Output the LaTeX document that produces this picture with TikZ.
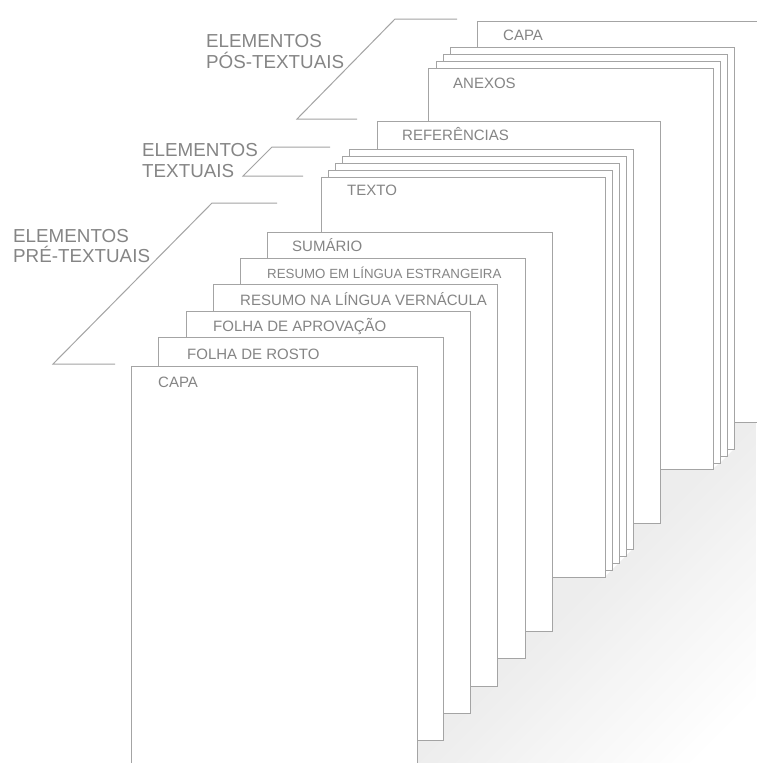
\documentclass[tikz,border=0pt]{standalone}
\usepackage{fontspec}
\setmainfont{Liberation Sans}
\usetikzlibrary{calc}
\definecolor{ln}{HTML}{A4A4A4}
\definecolor{tx}{HTML}{858585}
\begin{document}
\begin{tikzpicture}[x=1pt,y=-1pt,
  sheet/.style={draw=ln, fill=white, line width=0.9pt, anchor=north west, inner sep=0pt, outer sep=0pt},
  lbl/.style={text=tx, font=\fontsize{15}{18}\selectfont, anchor=base west, inner sep=0pt},
  lblsmall/.style={text=tx, font=\fontsize{13.3}{16}\selectfont, anchor=base west, inner sep=0pt},
  big/.style={text=tx, font=\fontsize{18.8}{21}\selectfont, anchor=base west, inner sep=0pt},
  brk/.style={draw=ln, line width=1pt}]
\useasboundingbox (0,0) rectangle (756,763);
\fill[white] (0,0) rectangle (756,763);
% soft shadow under the stacks, fading away from the steps
\begin{scope}
\clip (417,763) -- (417,740) -- (443,740) -- (443,713) -- (470,713) -- (470,686) -- (497,686)
  -- (497,658) -- (525,658) -- (525,631) -- (552,631) -- (552,577) -- (605,577)
  -- (612,570) -- (619,563) -- (626,556) -- (633,549) -- (633,523) -- (660,523)
  -- (660,469) -- (713,469) -- (720,463) -- (727,456) -- (734,449) -- (734,422)
  -- (756,422) -- (756,763) -- cycle;
\foreach \i in {0,...,60}{
  \pgfmathsetmacro\c{1110+6*\i}
  \pgfmathsetmacro\g{\c<1175 ? 7 : max(0,7*(1-(\c-1175)/280))}
  \fill[black!\g] (\c,0) -- (\c+6.5,0) -- (\c+6.5-900,900) -- (\c-900,900) -- cycle;
}
\end{scope}
% post-textual stack
\node[sheet, minimum width=285pt, minimum height=401pt] (capab) at (477,21) {};
\node[sheet, minimum width=284pt, minimum height=402pt] (p3) at (450,47) {};
\node[sheet, minimum width=284pt, minimum height=402pt] (p2) at (443,54) {};
\node[sheet, minimum width=284pt, minimum height=402pt] (p1) at (436,61) {};
\node[sheet, minimum width=285pt, minimum height=401pt] (anexos) at (428,68) {};
\node[sheet, minimum width=283pt, minimum height=402pt] (ref) at (377,121) {};
% textual stack
\node[sheet, minimum width=284pt, minimum height=400pt] (t4) at (349,149) {};
\node[sheet, minimum width=284pt, minimum height=400pt] (t3) at (342,156) {};
\node[sheet, minimum width=284pt, minimum height=400pt] (t2) at (335,163) {};
\node[sheet, minimum width=284pt, minimum height=400pt] (t1) at (328,170) {};
\node[sheet, minimum width=284pt, minimum height=400pt] (texto) at (321,177) {};
% pre-textual stack
\node[sheet, minimum width=285pt, minimum height=399pt] (sumario) at (267,232) {};
\node[sheet, minimum width=285pt, minimum height=400pt] (estr) at (240,258) {};
\node[sheet, minimum width=284pt, minimum height=402pt] (vern) at (213,284) {};
\node[sheet, minimum width=284pt, minimum height=402pt] (aprov) at (186,311) {};
\node[sheet, minimum width=285pt, minimum height=403pt] (rosto) at (158,337) {};
\node[sheet, minimum width=286pt, minimum height=420pt] (capa) at (131,366) {};
% sheet labels
\node[lbl] (lcapab) at ($(capab.north west)+(26,19)$) {CAPA};
\node[lbl] (lanexos) at ($(anexos.north west)+(25,20)$) {ANEXOS};
\node[lbl] (lref) at ($(ref.north west)+(25,19)$) {REFERÊNCIAS};
\node[lbl] (ltexto) at ($(texto.north west)+(26,18)$) {TEXTO};
\node[lbl] (lsumario) at ($(sumario.north west)+(25,19)$) {SUMÁRIO};
\node[lblsmall] (lestr) at ($(estr.north west)+(27,20)$) {RESUMO EM LÍNGUA ESTRANGEIRA};
\node[lbl] (lvern) at ($(vern.north west)+(27,21)$) {RESUMO NA LÍNGUA VERNÁCULA};
\node[lbl] (laprov) at ($(aprov.north west)+(27,20)$) {FOLHA DE APROVAÇÃO};
\node[lbl] (lrosto) at ($(rosto.north west)+(29,22)$) {FOLHA DE ROSTO};
\node[lbl] (lcapa) at ($(capa.north west)+(27,21)$) {CAPA};
% group labels
\node[big] (pos1) at (206,47) {ELEMENTOS};
\node[big] (pos2) at (206,68) {PÓS-TEXTUAIS};
\node[big] (txt1) at (142,156) {ELEMENTOS};
\node[big] (txt2) at (142,177) {TEXTUAIS};
\node[big] (pre1) at (13,242) {ELEMENTOS};
\node[big] (pre2) at (13,262) {PRÉ-TEXTUAIS};
% brackets
\coordinate (pa) at (457,19); \coordinate (pb) at (395,19);
\coordinate (pc) at (297,119); \coordinate (pd) at (357,119);
\draw[brk] (pa) -- (pb) -- (pc) -- (pd);
\coordinate (ta) at (330,147); \coordinate (tb) at (272,147);
\coordinate (tc) at (243,176); \coordinate (td) at (303,176);
\draw[brk] (ta) -- (tb) -- (tc) -- (td);
\coordinate (ra) at (277,203); \coordinate (rb) at (212,203);
\coordinate (rc) at (53,364); \coordinate (rd) at (115,364);
\draw[brk] (ra) -- (rb) -- (rc) -- (rd);
\end{tikzpicture}
\end{document}
